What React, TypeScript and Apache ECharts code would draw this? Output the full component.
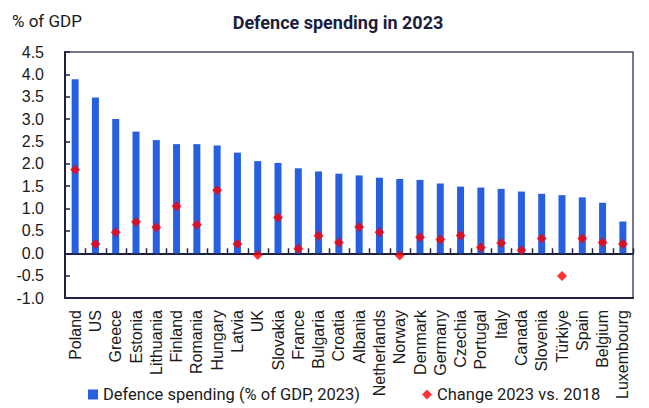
import React, { useEffect, useRef } from "react";
import * as echarts from "echarts";

const countries = [
  "Poland", "US", "Greece", "Estonia", "Lithuania", "Finland", "Romania", "Hungary",
  "Latvia", "UK", "Slovakia", "France", "Bulgaria", "Croatia", "Albania", "Netherlands",
  "Norway", "Denmark", "Germany", "Czechia", "Portugal", "Italy", "Canada", "Slovenia",
  "Türkiye", "Spain", "Belgium", "Luxembourg",
];
const spending2023 = [
  3.89, 3.48, 3.0, 2.72, 2.53, 2.44, 2.44, 2.41,
  2.25, 2.06, 2.02, 1.9, 1.83, 1.78, 1.74, 1.69,
  1.66, 1.64, 1.56, 1.49, 1.47, 1.44, 1.38, 1.33,
  1.3, 1.25, 1.13, 0.71,
];
const change2023vs2018 = [
  1.87, 0.21, 0.47, 0.7, 0.58, 1.05, 0.64, 1.41,
  0.21, -0.04, 0.8, 0.1, 0.39, 0.24, 0.59, 0.47,
  -0.05, 0.36, 0.31, 0.4, 0.13, 0.23, 0.07, 0.33,
  -0.51, 0.33, 0.24, 0.21,
];
const barName = "Defence spending (% of GDP, 2023)";
const dotName = "Change 2023 vs. 2018";
const titleText = "Defence spending in 2023";
const unitText = "% of GDP";

const AXIS = "#1e2140";
const TXT = "#1a1a1a";

export default function App() {
  const ref = useRef<HTMLDivElement>(null);
  useEffect(() => {
    if (!ref.current) return;
    const chart = echarts.init(ref.current, null, { renderer: "svg" });
    chart.setOption({
      animation: false,
      backgroundColor: "#ffffff",
      graphic: [
        {
          type: "text",
          x: 338,
          y: 22,
          style: {
            text: titleText,
            textAlign: "center",
            textVerticalAlign: "middle",
            font: "bold 18px Roboto",
            fill: "#1b1e3c",
          },
        },
        {
          type: "text",
          x: 12,
          y: 21,
          style: {
            text: unitText,
            textAlign: "left",
            textVerticalAlign: "middle",
            font: "17px Roboto",
            fill: TXT,
          },
        },
      ],
      legend: {
        left: 83,
        top: 381,
        itemWidth: 10,
        itemHeight: 10,
        itemGap: 62,
        textStyle: { fontFamily: "Roboto", fontSize: 16.5, color: TXT },
        data: [
          { name: barName, icon: "rect" },
          { name: dotName, icon: "diamond" },
        ],
      },
      grid: {
        left: 65,
        right: 16,
        top: 52,
        bottom: 110,
        show: true,
        borderColor: "#4a4e6a",
        borderWidth: 1.5,
      },
      xAxis: [
        {
          type: "category",
          data: countries,
          position: "bottom",
          axisLine: { onZero: false, lineStyle: { color: AXIS, width: 2 } },
          axisTick: { show: false },
          axisLabel: {
            rotate: 90,
            margin: 12,
            fontFamily: "Liberation Sans",
            fontSize: 16,
            color: TXT,
            interval: 0,
          },
        },
        {
          type: "category",
          data: countries,
          position: "top",
          axisLine: { onZero: true, lineStyle: { color: AXIS, width: 2 } },
          axisTick: { show: false },
          axisLabel: { show: false },
        },
      ],
      yAxis: {
        type: "value",
        min: -1,
        max: 4.5,
        interval: 0.5,
        axisLine: { show: true, lineStyle: { color: AXIS, width: 2 } },
        axisTick: { show: true, inside: true, length: 5, lineStyle: { color: AXIS, width: 1.5 } },
        splitLine: { show: false },
        axisLabel: {
          formatter: (v: number) => v.toFixed(1),
          margin: 21,
          fontFamily: "Liberation Sans",
          fontSize: 16,
          color: TXT,
        },
      },
      series: [
        {
          name: barName,
          type: "bar",
          xAxisIndex: 0,
          data: spending2023,
          barWidth: 7,
          itemStyle: { color: "#2660e0" },
        },
        {
          name: dotName,
          type: "scatter",
          xAxisIndex: 0,
          data: change2023vs2018,
          symbol: "diamond",
          symbolSize: 10,
          itemStyle: { color: "#ff0000" },
          z: 5,
        },
        {
          name: "zeroTicks",
          type: "custom",
          xAxisIndex: 0,
          silent: true,
          z: 4,
          data: countries.map((_, i) => [i, 0]),
          renderItem: (params: any, api: any) => {
            const c = api.coord([api.value(0), 0]);
            const w = api.size([1, 0])[0];
            const x = Math.round(c[0] + w / 2) + 0.5;
            return {
              type: "line",
              shape: { x1: x, y1: c[1], x2: x, y2: c[1] - 5 },
              style: { stroke: AXIS, lineWidth: 1.5 },
            };
          },
        },
      ],
    });
    return () => chart.dispose();
  }, []);
  return (
    <div
      ref={ref}
      style={{ position: "fixed", left: 0, top: 0, width: 649, height: 408 }}
    />
  );
}
